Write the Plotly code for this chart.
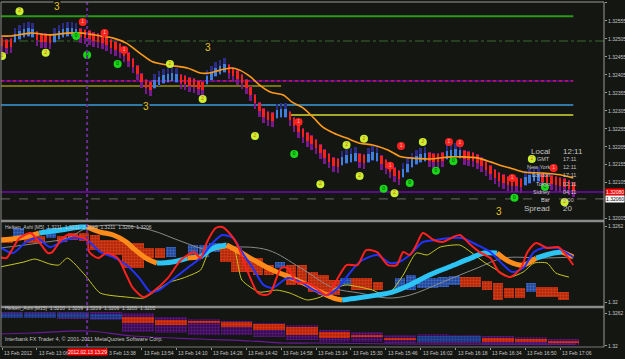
import plotly.graph_objects as go

BG = "#141612"
BASE = 1.32
PT = 0.00001


def P(v):
    return BASE + v * PT


# ---------------- time axis (minutes after 13:00, 13 Feb 2012) ----------------
ha_t = list(range(-10, 254, 2))

# ---------------- main pane: Heiken Ashi bars (points above 1.32000) ----------------
ha_open = [507, 502, 504, 496, 505, 510, 513, 510, 524, 518,
           518, 516, 496, 505, 510, 513, 513, 510, 532, 529,
           527, 521, 518, 516, 510, 502, 496, 491, 479, 466,
           449, 429, 407, 390, 385, 368, 377, 382, 385, 388,
           385, 404, 402, 396, 393, 388, 385, 380, 391, 402,
           407, 413, 432, 424, 416, 404, 390, 371, 349, 327,
           310, 302, 299, 285, 288, 288, 302, 285, 268, 254,
           243, 235, 224, 210, 196, 185, 174, 171, 154, 160,
           163, 166, 185, 182, 163, 168, 166, 179, 168, 157,
           146, 138, 121, 135, 149, 157, 163, 166, 188, 185,
           185, 188, 171, 174, 177, 174, 193, 190, 188, 182,
           174, 163, 151, 140, 132, 126, 121, 118, 118, 115,
           99, 104, 110, 110, 129, 126, 124, 121, 118, 115,
           110, 104]
ha_close = [485, 480, 482, 518, 527, 532, 535, 532, 502, 496,
            496, 494, 518, 527, 532, 535, 535, 532, 510, 507,
            505, 499, 496, 494, 488, 480, 474, 469, 457, 444,
            427, 407, 385, 368, 363, 390, 399, 404, 407, 410,
            407, 382, 380, 374, 371, 366, 363, 402, 413, 424,
            429, 435, 410, 402, 394, 382, 368, 349, 327, 305,
            288, 280, 277, 307, 310, 310, 280, 263, 246, 232,
            221, 213, 202, 188, 174, 163, 152, 149, 176, 182,
            185, 188, 163, 160, 185, 190, 188, 157, 146, 135,
            124, 116, 143, 157, 171, 179, 185, 188, 166, 163,
            163, 166, 193, 196, 199, 196, 171, 168, 166, 160,
            152, 141, 129, 118, 110, 104, 99, 96, 96, 93,
            121, 126, 132, 132, 107, 104, 102, 99, 96, 93,
            88, 82]
ha_high = [510, 505, 507, 535, 544, 549, 552, 549, 527, 521,
           521, 519, 535, 544, 549, 552, 552, 549, 535, 532,
           530, 524, 521, 519, 513, 505, 499, 494, 482, 469,
           452, 432, 410, 393, 388, 407, 416, 421, 424, 427,
           424, 407, 405, 399, 396, 391, 388, 419, 430, 441,
           446, 452, 435, 427, 419, 407, 393, 374, 352, 330,
           313, 305, 302, 324, 327, 327, 305, 288, 271, 257,
           246, 238, 227, 213, 199, 188, 177, 174, 193, 199,
           202, 205, 188, 185, 202, 207, 205, 182, 171, 160,
           149, 141, 160, 174, 188, 196, 202, 205, 191, 188,
           188, 191, 210, 213, 216, 213, 196, 193, 191, 185,
           177, 166, 154, 143, 135, 129, 124, 121, 121, 118,
           138, 143, 149, 149, 132, 129, 127, 124, 121, 118,
           113, 107]
ha_low = [468, 463, 465, 493, 502, 507, 510, 507, 485, 479,
          479, 477, 493, 502, 507, 510, 510, 507, 493, 490,
          488, 482, 479, 477, 471, 463, 457, 452, 440, 427,
          410, 390, 368, 351, 346, 365, 374, 379, 382, 385,
          382, 365, 363, 357, 354, 349, 346, 377, 388, 399,
          404, 410, 393, 385, 377, 365, 351, 332, 310, 288,
          271, 263, 260, 282, 285, 285, 263, 246, 229, 215,
          204, 196, 185, 171, 157, 146, 135, 132, 151, 157,
          160, 163, 146, 143, 160, 165, 163, 140, 129, 118,
          107, 99, 118, 132, 146, 154, 160, 163, 149, 146,
          146, 149, 168, 171, 174, 171, 154, 151, 149, 143,
          135, 124, 112, 101, 93, 87, 82, 79, 79, 76,
          96, 101, 107, 107, 90, 87, 85, 82, 79, 76,
          71, 65]

# main pane moving average (orange)
ma_t = [-11, -6, 3, 12, 20, 27, 35, 41, 47, 53, 59, 66, 75, 81, 85, 90, 95, 99, 104, 108,
        113, 119, 123, 128, 133, 137, 142, 148, 154, 160, 167, 173, 177, 186, 196, 201, 208,
        214, 218, 223, 229, 238, 246, 252]
ma_v = [513, 513, 521, 516, 521, 521, 513, 507, 493, 466, 441, 432, 424, 410, 410, 418, 424,
        418, 399, 377, 357, 349, 329, 313, 285, 260, 243, 229, 215, 210, 196, 177, 174, 171,
        177, 177, 174, 163, 154, 146, 135, 132, 127, 118]

# numbered signal circles
sig_t = [-2, 10, -10, 67, 82, 106, 148, 156, 136, 154, 170, 183, 233, 248,
         27, 37, 46, 126, 173, 168, 195, 200, 243, 224,
         24, 29, 43, 124, 165, 177, 197, 189, 239, 225]
sig_v = [582, 466, 457, 435, 338, 235, 210, 227, 101, 124, 76, 218, 171, 51,
         552, 521, 474, 274, 207, 152, 218, 215, 146, 118,
         513, 460, 435, 185, 88, 104, 165, 138, 93, 63]
sig_n = ["2"] * 14 + ["1"] * 10 + ["0"] * 10

# "3" labels
three_t = [15, 56, 84.5, 218]
three_v = [594, 316, 480, 24]

# horizontal levels: (price points, t_start, t_end)
lvl_green = (568, -10.5, 252)
lvl_dashdot = (499, -10.5, 266.1)
lvl_reddot = (388, -10.5, 252)
lvl_olive = (374, -10.5, 118)
lvl_blue = (321, -10.5, 252)
lvl_yellow = (293, 122, 252)
lvl_purple = (79, -10.5, 266.1)
lvl_gray = (60, -10.5, 266.1)
vline_t = 29

main_ticks = [605, 555, 505, 455, 405, 355, 305, 255, 205, 155, 105, 5]

# ---------------- pane 2: M5 oscillators ----------------
red_t = [-11, -8, -5, -2, 3, 7, 11, 13, 17, 20, 24, 29, 30, 34, 38, 43, 47, 50, 55, 59,
         66, 72, 78, 81, 84, 88, 91, 95, 98, 102, 107, 110, 113, 118, 121, 125, 130, 134, 139, 144,
         148, 153, 157, 162, 167, 171, 174, 177, 180, 183, 188, 192, 197, 200, 205, 209, 214, 218, 223, 228,
         231, 235, 240, 245, 248, 252]
red_v = [367, 359, 441, 522, 563, 490, 400, 408, 506, 547, 539, 506, 408, 359, 400, 359, 221, 115, 41, 82,
         196, 343, 408, 359, 490, 604, 612, 547, 465, 278, 82, 57, 74, 278, 278, 163, 155, 115, 57, 196,
         302, 302, 424, 408, 302, 302, 408, 384, 465, 563, 506, 490, 531, 547, 465, 408, 359, 245, 204, 278,
         408, 482, 441, 449, 400, 302]
blue_t = [-11, -5, 1, 6, 12, 17, 23, 29, 35, 41, 47, 53, 58, 62, 68, 75, 81, 87, 91, 96,
          100, 105, 110, 114, 121, 127, 133, 139, 144, 148, 154, 162, 168, 172, 177, 183, 189, 195, 201, 208,
          214, 220, 224, 229, 234, 238, 245, 249, 252]
blue_v = [449, 400, 490, 522, 449, 490, 522, 506, 408, 367, 302, 196, 82, 98, 180, 278, 359, 490, 547, 522,
          408, 278, 139, 115, 196, 163, 98, 57, 115, 204, 327, 384, 318, 327, 384, 490, 506, 522, 522, 465,
          408, 302, 245, 278, 408, 441, 441, 400, 367]
yel_t = [-11, 0, 5, 12, 16, 20, 28, 35, 47, 55, 61, 67, 73, 81, 85, 96, 100, 108, 116, 122,
         130, 136, 144, 148, 154, 160, 165, 169, 174, 180, 185, 191, 200, 205, 211, 217, 223, 229, 234, 240,
         244, 250]
yel_v = [286, 327, 351, 310, 302, 359, 221, 74, 41, 33, 98, 163, 196, 261, 408, 441, 180, 82, 98, 74,
         17, 41, 123, 139, 123, 98, 57, 98, 221, 400, 384, 449, 465, 408, 327, 261, 204, 245, 318, 318,
         237, 204]
gray_t = [-11, 7, 20, 29, 43, 58, 73, 85, 96, 112, 127, 142, 154, 167, 177, 192, 208, 220, 238, 252]
gray_v = [441, 482, 522, 604, 628, 588, 490, 424, 449, 424, 278, 115, 74, 33, 57, 163, 278, 359, 359, 367]
hal_t = [-11, -2, 7, 17, 26, 29, 35, 41, 47, 50, 56, 61, 68, 75, 81, 87, 93, 99, 107, 114,
         123, 130, 136, 142, 146, 153, 162, 169, 177, 186, 195, 205, 211, 217, 223, 229, 235, 243, 247, 252]
hal_v = [506, 522, 563, 588, 612, 612, 571, 547, 490, 441, 359, 318, 327, 359, 367, 441, 465, 408, 327, 261,
         196, 139, 82, 33, 17, 33, 57, 82, 139, 221, 286, 359, 400, 400, 327, 302, 359, 400, 408, 367]
hal_up = [0, 0, 1, 1, 1, 0, 0, 0, 0, 0, 0, 1, 1, 0, 1, 1, 0, 0, 0, 0,
          0, 0, 0, 0, 1, 1, 1, 1, 1, 1, 1, 1, 1, 0, 0, 0, 1, 1, 0, 0]

# M5 Heiken Ashi blocks: start minute, open, close
m5_t = [-10, -5, 0, 5, 10, 15, 20, 25, 30, 35, 40, 45, 50, 55, 60, 65, 75, 80, 85, 90,
        95, 100, 105, 110, 115, 120, 125, 130, 135, 140, 145, 150, 155, 160, 170, 175, 180, 185, 190, 195,
        200, 205, 210, 215, 220, 225, 230, 235, 240, 245]
m5_open = [531, 506, 539, 539, 522, 539, 563, 563, 547, 506, 506, 482, 482, 441, 441, 367, 384, 367, 408, 465,
           441, 359, 359, 302, 278, 302, 302, 245, 221, 180, 139, 196, 196, 163, 115, 98, 115, 115, 123, 139,
           204, 204, 172, 155, 115, 115, 82, 123, 123, 82]
m5_close = [482, 604, 482, 482, 604, 490, 506, 498, 424, 400, 384, 278, 278, 359, 359, 449, 465, 465, 482, 327,
            245, 245, 221, 221, 327, 139, 139, 82, 57, 57, 196, 98, 98, 98, 196, 221, 196, 196, 204, 212,
            123, 123, 98, 17, 33, 33, 155, 41, 41, 17]

# ---------------- pane 3: M15 Heiken Ashi ----------------
m15_t = [-15, 0, 15, 30, 45, 60, 75, 90, 105, 120, 135, 150, 165, 180, 195, 210, 225, 240]
m15_open = [526, 526, 526, 507, 545, 488, 470, 451, 413, 357, 263, 206, 150, 75, 75, 150, 131, 94]
m15_close = [620, 620, 620, 601, 432, 394, 432, 357, 300, 206, 150, 169, 131, 188, 188, 75, 75, 56]
m15_high = [630, 630, 630, 630, 620, 545, 507, 470, 432, 394, 300, 263, 206, 225, 206, 188, 169, 131]
m15_low = [520, 520, 510, 480, 263, 244, 206, 206, 169, 112, 75, 75, 56, 56, 56, 18, 18, 18]
pur_t = [-11, 4, 29, 50, 81, 104, 119, 133, 173, 253]
pur_v = [225, 244, 282, 188, 131, 94, 56, 56, 37, 37]

# ---------------- x-axis labels ----------------
xlab_t = [-10, 6, 38, 54, 70, 86, 102, 118, 134, 150, 166, 182, 198, 214, 230, 246]
xlab_txt = ["13 Feb 2012", "13 Feb 13:06", "3 Feb 13:38", "13 Feb 13:54",
            "13 Feb 14:10", "13 Feb 14:26", "13 Feb 14:42", "13 Feb 14:58", "13 Feb 15:14",
            "13 Feb 15:30", "13 Feb 15:46", "13 Feb 16:02", "13 Feb 16:18", "13 Feb 16:34",
            "13 Feb 16:50", "13 Feb 17:06"]

info_names = ["GMT", "New York", "London", "Tokyo", "Sidney", "Bar"]
info_vals = ["17:11", "12:11", "17:11", "02:11", "04:11", "0:00"]

FONT = "Liberation Sans"
fig = go.Figure()

# ---- main pane HA bars ----
dn = [i for i in range(len(ha_t)) if ha_close[i] < ha_open[i]]
up = [i for i in range(len(ha_t)) if ha_close[i] >= ha_open[i]]
for idx, wcol, bcol in [(dn, "#7a1890", "#ff1e1e"), (up, "#2a2c88", "#3f7fe0")]:
    fig.add_trace(go.Bar(x=[ha_t[i] for i in idx], base=[P(ha_low[i]) for i in idx],
                         y=[(ha_high[i] - ha_low[i]) * PT for i in idx], width=1.15,
                         marker=dict(color=wcol, line_width=0), xaxis="x", yaxis="y",
                         hoverinfo="skip", showlegend=False))
    fig.add_trace(go.Bar(x=[ha_t[i] for i in idx],
                         base=[P(min(ha_open[i], ha_close[i])) for i in idx],
                         y=[abs(ha_close[i] - ha_open[i]) * PT for i in idx], width=1.15,
                         marker=dict(color=bcol, line_width=0), xaxis="x", yaxis="y",
                         hoverinfo="skip", showlegend=False))

fig.add_trace(go.Scatter(x=ma_t, y=[P(v) for v in ma_v], mode="lines",
                         line=dict(color="#ff9a1a", width=1.6, shape="spline", smoothing=0.8),
                         xaxis="x", yaxis="y", showlegend=False, hoverinfo="skip"))

sig_style = {"2": ("#c8f030", "#e06010"), "1": ("#ff2222", "#ffc0a0"), "0": ("#18d818", "#004000")}
for n in ["2", "1", "0"]:
    idx = [i for i in range(len(sig_t)) if sig_n[i] == n]
    fc, tc = sig_style[n]
    fig.add_trace(go.Scatter(x=[sig_t[i] for i in idx], y=[P(sig_v[i]) for i in idx],
                             mode="markers+text", text=[n] * len(idx), textposition="middle center",
                             textfont=dict(size=5, color=tc, family=FONT),
                             marker=dict(size=8, color=fc, line=dict(width=0)),
                             xaxis="x", yaxis="y", showlegend=False, hoverinfo="skip"))

# ---- pane 2 ----
for up_flag, bgc, fgc in [(0, "#a82208", "#ff5a28"), (1, "#1e3c88", "#5a9aff")]:
    idx = [i for i in range(len(m5_t)) if (m5_close[i] > m5_open[i]) == bool(up_flag)]
    fig.add_trace(go.Bar(x=[m5_t[i] + 2.5 for i in idx],
                         base=[P(min(m5_open[i], m5_close[i])) for i in idx],
                         y=[abs(m5_close[i] - m5_open[i]) * PT for i in idx], width=4.8,
                         marker=dict(color=bgc, line_width=0,
                                     pattern=dict(shape=".", fgcolor=fgc, bgcolor=bgc, size=3, solidity=0.5)),
                         xaxis="x2", yaxis="y2", showlegend=False, hoverinfo="skip"))

fig.add_trace(go.Scatter(x=gray_t, y=[P(v) for v in gray_v], mode="lines",
                         line=dict(color="#8a8a8a", width=1, shape="spline"),
                         xaxis="x2", yaxis="y2", showlegend=False, hoverinfo="skip"))
fig.add_trace(go.Scatter(x=yel_t, y=[P(v) for v in yel_v], mode="lines",
                         line=dict(color="#c8c820", width=1, shape="spline", smoothing=0.6),
                         xaxis="x2", yaxis="y2", showlegend=False, hoverinfo="skip"))
i = 0
n = len(hal_t)
while i < n - 1:
    c = hal_up[i]
    j = i
    while j < n - 1 and hal_up[j] == c:
        j += 1
    fig.add_trace(go.Scatter(x=hal_t[i:j + 1], y=[P(v) for v in hal_v[i:j + 1]], mode="lines",
                             line=dict(color="#2cc4f4" if c else "#ff8c1a", width=5, shape="spline"),
                             xaxis="x2", yaxis="y2", showlegend=False, hoverinfo="skip"))
    i = j
fig.add_trace(go.Scatter(x=blue_t, y=[P(v) for v in blue_v], mode="lines",
                         line=dict(color="#2233ff", width=2, shape="spline", smoothing=0.7),
                         xaxis="x2", yaxis="y2", showlegend=False, hoverinfo="skip"))
fig.add_trace(go.Scatter(x=red_t, y=[P(v) for v in red_v], mode="lines",
                         line=dict(color="#ff2020", width=2, shape="spline", smoothing=0.7),
                         xaxis="x2", yaxis="y2", showlegend=False, hoverinfo="skip"))

# ---- pane 3 ----
fig.add_trace(go.Bar(x=[t + 7.5 for t in m15_t], base=[P(v) for v in m15_low],
                     y=[(h - l) * PT for h, l in zip(m15_high, m15_low)], width=14.6,
                     marker=dict(color="#2a0840", line_width=0,
                                 pattern=dict(shape=".", fgcolor="#8a2ab8", bgcolor="#2a0840", size=3, solidity=0.5)),
                     xaxis="x3", yaxis="y3", showlegend=False, hoverinfo="skip"))
for up_flag, bgc, fgc in [(0, "#b02008", "#ff4a20"), (1, "#1a2a70", "#3a6ad0")]:
    idx = [i for i in range(len(m15_t)) if (m15_close[i] > m15_open[i]) == bool(up_flag)]
    fig.add_trace(go.Bar(x=[m15_t[i] + 7.5 for i in idx],
                         base=[P(min(m15_open[i], m15_close[i])) for i in idx],
                         y=[abs(m15_close[i] - m15_open[i]) * PT for i in idx], width=14.6,
                         marker=dict(color=bgc, line_width=0,
                                     pattern=dict(shape=".", fgcolor=fgc, bgcolor=bgc, size=3, solidity=0.5)),
                         xaxis="x3", yaxis="y3", showlegend=False, hoverinfo="skip"))
fig.add_trace(go.Scatter(x=pur_t, y=[P(v) for v in pur_v], mode="lines",
                         line=dict(color="#6a1a9a", width=1.2, shape="spline"),
                         xaxis="x3", yaxis="y3", showlegend=False, hoverinfo="skip"))

# ---- shapes ----
shapes = []


def hline(lvl, color, width=1, dash="solid", yref="y"):
    v, t0, t1 = lvl
    shapes.append(dict(type="line", xref="x", yref=yref, x0=t0, x1=t1, y0=P(v), y1=P(v),
                       line=dict(color=color, width=width, dash=dash), layer="below"))


hline(lvl_green, "#2c9a18", 2)
hline(lvl_dashdot, "#3c6a30", 1, "dashdot")
hline(lvl_reddot, "#4a0a80", 2)
hline(lvl_reddot, "#ff2040", 1, "dot")
hline(lvl_olive, "#9a9010", 1.5)
hline(lvl_blue, "#3a9ad8", 1.5)
hline(lvl_yellow, "#d8d830", 1.5)
hline(lvl_purple, "#5a0a8a", 2)
hline(lvl_gray, "#6a6a6a", 1, "dash")
shapes.append(dict(type="line", xref="x", yref="paper", x0=vline_t, x1=vline_t, y0=0, y1=1,
                   line=dict(color="#6a2a9a", width=2, dash="dot")))
# pane separators / borders (paper coords)
for yp, col, w in [(1.0, "#9a9a9a", 1), (0.3652, "#8a8a8a", 2.5), (0.1159, "#8a8a8a", 2.5), (0.0, "#7a7a7a", 1)]:
    shapes.append(dict(type="line", xref="paper", yref="paper", x0=0, x1=1, y0=yp, y1=yp,
                       line=dict(color=col, width=w)))
shapes.append(dict(type="line", xref="paper", yref="paper", x0=0, x1=0, y0=0, y1=1,
                   line=dict(color="#8a8a8a", width=1)))
shapes.append(dict(type="line", xref="paper", yref="paper", x0=1, x1=1, y0=0, y1=1,
                   line=dict(color="#9a9a9a", width=1)))

# ---- annotations ----
ann = []
TXT = "#c4c4c4"
for t, v in zip(three_t, three_v):
    ann.append(dict(x=t, y=P(v), xref="x", yref="y", text="3", showarrow=False,
                    font=dict(size=10, color="#e6c420", family=FONT), bgcolor=BG, borderpad=0))
for t, s in zip(xlab_t, xlab_txt):
    ann.append(dict(x=t, y=-0.004, xref="x", yref="paper", text=s, showarrow=False,
                    xanchor="left", yanchor="top", font=dict(size=5, color=TXT, family=FONT)))
ann.append(dict(x=vline_t, y=-0.004, xref="x", yref="paper", text="2012.02.13 13:29", showarrow=False,
                xanchor="center", yanchor="top", bgcolor="#ff0000", borderpad=0,
                font=dict(size=5, color="#ffffff", family=FONT)))
ann.append(dict(x=0.004, y=0.348, xref="paper", yref="paper", showarrow=False, xanchor="left",
                text="Heiken_Ashi [M5]  1.3211  1.3211  1.3209  1.3211  1.3206  1.3206",
                font=dict(size=5, color=TXT, family=FONT)))
ann.append(dict(x=0.004, y=0.099, xref="paper", yref="paper", showarrow=False, xanchor="left",
                text="Heiken_Ashi [M15]  1.3210  1.3209  1.3209  1.3206  1.3205  1.3205",
                font=dict(size=5, color=TXT, family=FONT)))
ann.append(dict(x=0.004, y=0.009, xref="paper", yref="paper", showarrow=False, xanchor="left",
                text="Interbank FX Trader 4, \u00a9 2001-2011 MetaQuotes Software Corp.",
                font=dict(size=5.5, color=TXT, family=FONT)))
# current price boxes on right axis
ann.append(dict(x=1, y=P(lvl_purple[0]), xref="paper", yref="y", xanchor="left", showarrow=False,
                text="1.32080", bgcolor="#ff0000", borderpad=0, xshift=1,
                font=dict(size=5, color="#ffffff", family=FONT)))
ann.append(dict(x=1, y=P(lvl_gray[0]), xref="paper", yref="y", xanchor="left", showarrow=False,
                text="1.32060", bgcolor="#ffffff", borderpad=0, xshift=1,
                font=dict(size=5, color="#000000", family=FONT)))
# info panel
ann.append(dict(x=0.9138, y=(347 - 151) / 345, xref="paper", yref="paper", xanchor="right", showarrow=False,
                text="Local", font=dict(size=8, color=TXT, family=FONT)))
ann.append(dict(x=0.9287, y=(347 - 151) / 345, xref="paper", yref="paper", xanchor="left", showarrow=False,
                text="12:11", font=dict(size=8, color=TXT, family=FONT)))
for k, (nm, vl) in enumerate(zip(info_names, info_vals)):
    yy = (347 - (159 + 8.2 * k)) / 345
    ann.append(dict(x=0.9138, y=yy, xref="paper", yref="paper", xanchor="right", showarrow=False,
                    text=nm, font=dict(size=5.5, color=TXT, family=FONT)))
    ann.append(dict(x=0.9287, y=yy, xref="paper", yref="paper", xanchor="left", showarrow=False,
                    text=vl, font=dict(size=5.5, color=TXT, family=FONT)))
ann.append(dict(x=0.9138, y=(347 - 208) / 345, xref="paper", yref="paper", xanchor="right", showarrow=False,
                text="Spread", font=dict(size=8, color=TXT, family=FONT)))
ann.append(dict(x=0.9287, y=(347 - 208) / 345, xref="paper", yref="paper", xanchor="left", showarrow=False,
                text="20", font=dict(size=8, color=TXT, family=FONT)))

XR = [-10.5, 266.1]
yax_common = dict(side="right", showgrid=False, zeroline=False, ticks="outside", ticklen=2,
                  tickcolor="#9a9a9a", tickfont=dict(size=5, color=TXT, family=FONT),
                  automargin=False, showline=False, fixedrange=True)
fig.update_layout(
    width=625, height=359, margin=dict(l=1, r=21, t=2, b=12),
    paper_bgcolor=BG, plot_bgcolor=BG, barmode="overlay", bargap=0,
    showlegend=False, shapes=shapes, annotations=ann,
    xaxis=dict(domain=[0, 1], range=XR, anchor="y", visible=False),
    xaxis2=dict(domain=[0, 1], range=XR, anchor="y2", matches="x", visible=False),
    xaxis3=dict(domain=[0, 1], range=XR, anchor="y3", matches="x", showgrid=False, zeroline=False,
                showticklabels=False, ticks="outside", ticklen=2, tickcolor="#9a9a9a",
                tickvals=xlab_t, showline=False, automargin=False),
    yaxis=dict(domain=[0.3652, 1], range=[P(-1.4), P(607.4)], anchor="x",
               tickvals=[P(v) for v in main_ticks], ticktext=["%.5f" % P(v) for v in main_ticks], **yax_common),
    yaxis2=dict(domain=[0.1188, 0.3623], range=[P(-32), P(653)], anchor="x2",
                tickvals=[P(620), P(0)], ticktext=["1.3262", "1.32"], **yax_common),
    yaxis3=dict(domain=[0, 0.1130], range=[P(-19), P(714)], anchor="x3",
                tickvals=[P(620), P(0)], ticktext=["1.3262", "1.32"], **yax_common),
)

fig.write_html("out.html", config={"displayModeBar": False})
